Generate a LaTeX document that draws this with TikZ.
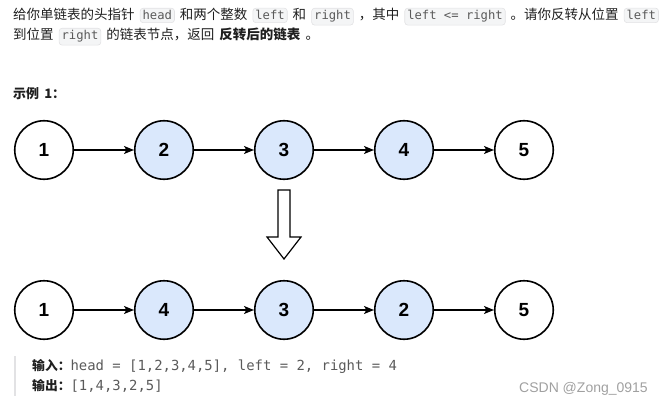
\documentclass[tikz,border=0pt]{standalone}
\usepackage{fontspec}
\usepackage{xcolor}
\usetikzlibrary{arrows.meta, positioning}
\newfontfamily\cjk[WordSpace=1.7]{Noto Sans CJK SC}
\newfontfamily\codefont{DejaVu Sans Mono}
\newfontfamily\numfont{Liberation Sans}
\definecolor{nodeblue}{HTML}{DAE8FC}
\definecolor{codebg}{HTML}{F4F5F6}
\definecolor{codeline}{HTML}{E2E2E4}
\definecolor{codegray}{HTML}{5A5A5A}
\definecolor{textdark}{HTML}{1F1F1F}
\definecolor{markgray}{HTML}{A0A0A0}
\tikzset{
  listnode/.style={circle, draw, line width=1.6pt, minimum size=58.5pt, inner sep=0pt,
    font=\numfont\bfseries\fontsize{19}{19}\selectfont},
  swapped/.style={listnode, fill=nodeblue},
  link/.style={-{Stealth[length=10pt, width=8pt, inset=2.5pt]}, line width=1.2pt},
  codebox/.style={fill=codebg, draw=codeline, rounded corners=3pt, inner xsep=2.5pt,
    inner ysep=2.5pt, line width=0.6pt, text=codegray, font=\codefont\fontsize{12.2}{13}\selectfont},
  textline/.style={anchor=base west, inner sep=0pt, text=textdark},
}
\newcommand{\cod}[1]{\tikz[baseline=(cb.base)]\node[codebox](cb){#1};}

\begin{document}
\begin{tikzpicture}[x=1pt, y=-1pt]
  \useasboundingbox (0,0) rectangle (665,404);

  % problem statement
  \node[textline, font=\cjk\fontsize{13.5}{15}\selectfont] (desc1) at (13,20)
    {给你单链表的头指针 \cod{head} 和两个整数 \cod{left} 和 \cod{right} ，其中 \cod{left <= right} 。请你反转从位置 \cod{left}};
  \node[textline, font=\cjk\fontsize{13.5}{15}\selectfont] (desc2) at (13,40)
    {到位置 \cod{right} 的链表节点，返回 {\bfseries 反转后的链表} 。};
  \node[textline, font=\cjk\bfseries\fontsize{13}{14}\selectfont] (example) at (13,99) {示例 1：};

  % list before
  \node[listnode] (a1) at (44,150) {1};
  \node[swapped]  (a2) at (164,150) {2};
  \node[swapped]  (a3) at (284,150) {3};
  \node[swapped]  (a4) at (404,150) {4};
  \node[listnode] (a5) at (524,150) {5};
  \foreach \i/\j in {1/2, 2/3, 3/4, 4/5}
    \draw[link] (a\i) -- (a\j);

  % block arrow
  \draw[line width=1.2pt, fill=white] (278,190) -- (290,190) -- (290,237) -- (301,237)
    -- (284,259) -- (267,237) -- (278,237) -- cycle;

  % list after
  \node[listnode] (b1) at (44,310) {1};
  \node[swapped]  (b2) at (164,310) {4};
  \node[swapped]  (b3) at (284,310) {3};
  \node[swapped]  (b4) at (404,310) {2};
  \node[listnode] (b5) at (524,310) {5};
  \foreach \i/\j in {1/2, 2/3, 3/4, 4/5}
    \draw[link] (b\i) -- (b\j);

  % input / output
  \draw[line width=2pt, codeline] (15,356) -- (15,396);
  \node[textline, font=\cjk\bfseries\fontsize{12.8}{14}\selectfont] (input) at (32,370)
    {输入：{\codefont\mdseries\fontsize{13.9}{14}\selectfont\color{codegray}head = [1,2,3,4,5], left = 2, right = 4}};
  \node[textline, font=\cjk\bfseries\fontsize{12.8}{14}\selectfont] (output) at (32,390)
    {输出：{\codefont\mdseries\fontsize{13.9}{14}\selectfont\color{codegray}[1,4,3,2,5]}};
  \node[textline, text=markgray, font=\numfont\fontsize{14}{14}\selectfont] (mark) at (519,392) {CSDN @Zong\_0915};
\end{tikzpicture}
\end{document}
